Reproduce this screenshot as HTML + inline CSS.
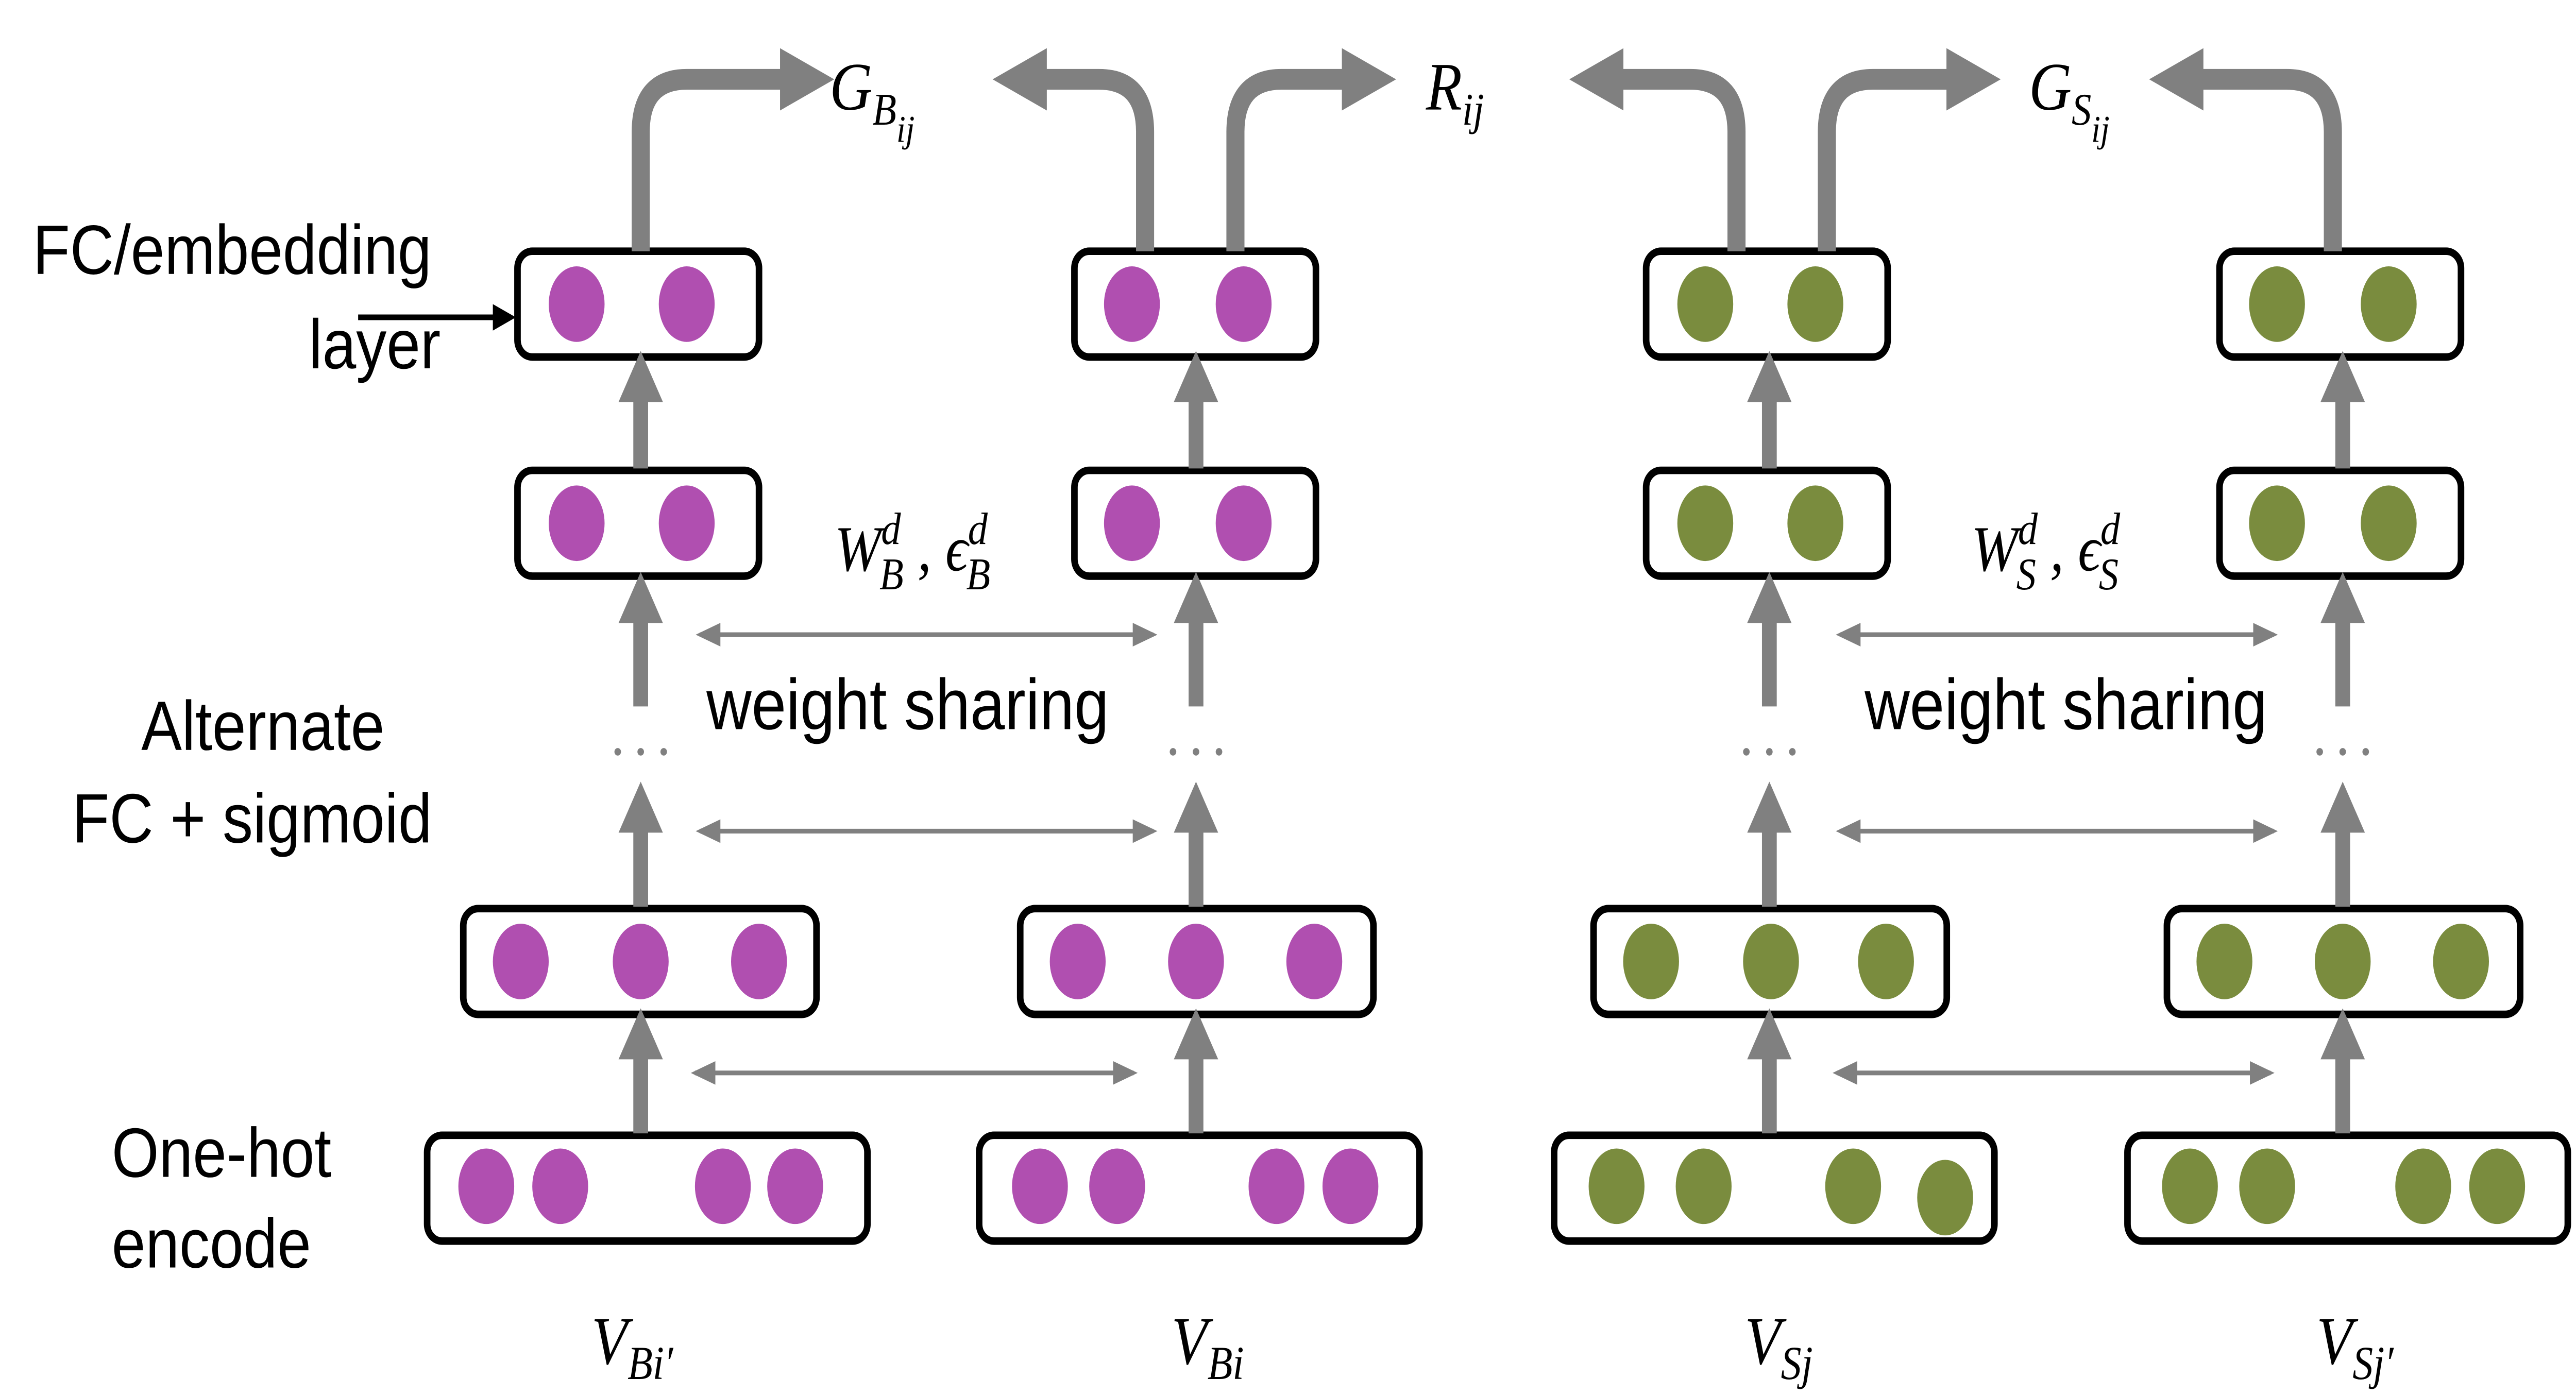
<!DOCTYPE html>
<html><head><meta charset="utf-8"><style>
html,body{margin:0;padding:0;background:#fff;width:100%;height:100%;overflow:hidden}
svg{display:block;width:100vw;height:100vh}
text{font-family:"Liberation Sans",sans-serif;fill:#000}
.m{font-family:"Liberation Serif",serif;font-style:italic}
</style></head><body>
<svg id="fig" viewBox="0 0 1568 738.5" preserveAspectRatio="none" xmlns="http://www.w3.org/2000/svg">
<defs>
<marker id="ah" markerWidth="3" markerHeight="3" refX="1.2" refY="1.5" orient="auto" markerUnits="strokeWidth"><path d="M0,0 L3,1.5 L0,3 Z" fill="#808080"/></marker>
<marker id="sh" markerWidth="6" markerHeight="6" refX="5" refY="3" orient="auto" markerUnits="strokeWidth"><path d="M0,0.5 L6,3 L0,5.5 Z" fill="#808080"/></marker>
<marker id="sh2" markerWidth="6" markerHeight="6" refX="1" refY="3" orient="auto" markerUnits="strokeWidth"><path d="M6,0.5 L0,3 L6,5.5 Z" fill="#808080"/></marker>
</defs>
<g id="g"></g>
<text x="20" y="145" font-size="37">FC/embedding</text>
<text x="188" y="195" font-size="37">layer</text>
<line x1="218" y1="168" x2="304" y2="168" stroke="#000" stroke-width="3"/>
<path d="M300,161 L314,168 L300,175Z" fill="#000"/>
<text x="86" y="397" font-size="37">Alternate</text>
<text x="44" y="446" font-size="37">FC + sigmoid</text>
<text x="68" y="623" font-size="37">One-hot</text>
<text x="68" y="671" font-size="37">encode</text>
<text x="430" y="386" font-size="38">weight sharing</text>
<text x="1135" y="386" font-size="38">weight sharing</text>
<text x="508" y="302" font-size="34" class="m">W<tspan font-size="24" dy="-14">d</tspan><tspan font-size="24" dx="-13" dy="24">B</tspan><tspan dy="-10"> , ϵ</tspan><tspan font-size="24" dy="-14">d</tspan><tspan font-size="24" dx="-13" dy="24">B</tspan></text>
<text x="1200" y="302" font-size="34" class="m">W<tspan font-size="24" dy="-14">d</tspan><tspan font-size="24" dx="-13" dy="24">S</tspan><tspan dy="-10"> , ϵ</tspan><tspan font-size="24" dy="-14">d</tspan><tspan font-size="24" dx="-13" dy="24">S</tspan></text>
<text x="505" y="58" font-size="36" class="m">G<tspan font-size="24" dy="8">B</tspan><tspan font-size="20" dy="9">ij</tspan></text>
<text x="868" y="58" font-size="36" class="m">R<tspan font-size="24" dy="8">ij</tspan></text>
<text x="1235" y="58" font-size="36" class="m">G<tspan font-size="24" dy="8">S</tspan><tspan font-size="20" dy="9">ij</tspan></text>
<text x="360" y="722" font-size="36" class="m">V<tspan font-size="25" dy="8">Bi′</tspan></text>
<text x="713" y="722" font-size="36" class="m">V<tspan font-size="25" dy="8">Bi</tspan></text>
<text x="1062" y="722" font-size="36" class="m">V<tspan font-size="25" dy="8">Sj</tspan></text>
<text x="1410" y="722" font-size="36" class="m">V<tspan font-size="25" dy="8">Sj′</tspan></text>
</svg>
<script>
const NS='http://www.w3.org/2000/svg';
const g=document.getElementById('g');
function mk(t,a){const e=document.createElementNS(NS,t);for(const k in a)e.setAttribute(k,a[k]);g.appendChild(e);return e;}
const P='#B04FB0',G='#7A8C3E';
const cols=[
 {c:390,col:P,b:260,l2:282,t:315,bc:[296,341,440,484],l2c:[317,390,462],tc:[351,418]},
 {c:728,col:P,b:596,l2:621,t:654,bc:[633,680,777,822],l2c:[656,728,800],tc:[689,757]},
 {c:1077,col:G,b:946,l2:970,t:1002,bc:[984,1037,1128,1184],l2c:[1005,1078,1148],tc:[1038,1105]},
 {c:1426,col:G,b:1295,l2:1319,t:1351,bc:[1333,1380,1475,1520],l2c:[1354,1426,1498],tc:[1386,1454]}
];
function box(x,y,w,h,n){const r=mk('rect',{x:x,y:y,width:w,height:h,rx:9,fill:'#fff',stroke:'#000','stroke-width':4});

}
function dot(cx,cy,col,n){const e=mk('ellipse',{cx:cx,cy:cy,rx:17,ry:20,fill:col});

}
function up(x,y1,y2){const l=mk('line',{x1:x,y1:y1,x2:x,y2:y2+10,stroke:'#808080','stroke-width':9,'marker-end':'url(#ah)'});

}
cols.forEach((k,i)=>{
 box(k.b,601,268,56,'one-hot-box-'+i);k.bc.forEach((x,j)=>dot(x,(i==2&&j==3)?634:628,k.col,'one-hot-unit'));
 box(k.l2,481,215,56,'hidden-box-'+i);k.l2c.forEach(x=>dot(x,509,k.col,'hidden-unit'));
 box(k.t,249,147,56,'hidden-top-box-'+i);k.tc.forEach(x=>dot(x,277,k.col,'hidden-unit'));
 box(k.t,133,147,56,'embedding-box-'+i);k.tc.forEach(x=>dot(x,161,k.col,'embedding-unit'));
 up(k.c,600,540);up(k.c,480,420);up(k.c,374,309);up(k.c,248,192);
 [-14,0,14].forEach(dx=>{const d=mk('circle',{cx:k.c+dx,cy:398,r:2,fill:'#808080'});
 
 });
});
[[415,698,568],[418,710,440],[418,710,336],[1110,1390,568],[1112,1392,440],[1112,1392,336]].forEach(a=>{
 const l=mk('line',{x1:a[0]+8,y1:a[2],x2:a[1]-8,y2:a[2],stroke:'#808080','stroke-width':2.5,'marker-end':'url(#sh)','marker-start':'url(#sh2)'});
 
 
});
[[390,488],[697,624],[752,830],[1057,975],[1112,1198],[1420,1328]].forEach(a=>{
 const dir=a[1]>a[0]?1:-1;
 const p=mk('path',{d:`M${a[0]},133 L${a[0]},70 Q${a[0]},42 ${a[0]+dir*28},42 L${a[1]},42`,fill:'none',stroke:'#808080','stroke-width':11,'marker-end':'url(#ah)'});
 
 
});
</script>
</body></html>
